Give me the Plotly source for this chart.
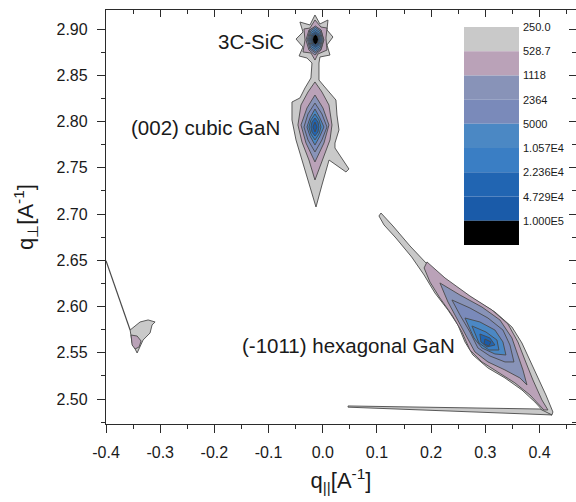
import plotly.graph_objects as go

# ---------------- data ----------------
LEVELS = [250.0, 528.7, 1118, 2364, 5000, 1.057e4, 2.236e4, 4.729e4, 1.0e5]
LEVEL_LABELS = ["250.0", "528.7", "1118", "2364", "5000", "1.057E4", "2.236E4", "4.729E4", "1.000E5"]

X_TICK_VALS = [-0.4, -0.3, -0.2, -0.1, 0.0, 0.1, 0.2, 0.3, 0.4]
X_TICK_TEXT = ["-0.4", "-0.3", "-0.2", "-0.1", "0.0", "0.1", "0.2", "0.3", "0.4"]
Y_TICK_VALS = [2.50, 2.55, 2.60, 2.65, 2.70, 2.75, 2.80, 2.85, 2.90]
Y_TICK_TEXT = ["2.50", "2.55", "2.60", "2.65", "2.70", "2.75", "2.80", "2.85", "2.90"]

PEAK_NAMES = ["3C-SiC", "(002) cubic GaN", "(-1011) hexagonal GaN"]

# --- 3C-SiC + (002) cubic GaN, outer level (250) ---
sic_cub_250_qx = [-0.0144, -0.0052, 0.0096, 0.0078, 0.0188, 0.0078, 0.0133, -0.0052, -0.0070, -0.0070,
                  0.0022, 0.0133, 0.0243, 0.0262, 0.0299, 0.0225, 0.0225, 0.0483, 0.0428, 0.0116,
                  0.0059, -0.0015, -0.0125, -0.0218, -0.0292, -0.0384, -0.0494, -0.0568, -0.0568, -0.0421,
                  -0.0328, -0.0218, -0.0199, -0.0292, -0.0437, -0.0365, -0.0493, -0.0365, -0.0421, -0.0236]
sic_cub_250_qz = [2.9152, 2.9055, 2.9098, 2.8990, 2.8914, 2.8828, 2.8719, 2.8698, 2.8633, 2.8449,
                  2.8384, 2.8309, 2.8233, 2.8071, 2.7909, 2.7768, 2.7714, 2.7487, 2.7455, 2.7584,
                  2.7476, 2.7314, 2.7076, 2.7260, 2.7422, 2.7584, 2.7801, 2.8017, 2.8211, 2.8255,
                  2.8363, 2.8471, 2.8633, 2.8687, 2.8709, 2.8806, 2.8892, 2.8968, 2.9076, 2.9044]

# --- 3C-SiC inner levels ---
sic_528_qx = [-0.0144, -0.0033, 0.0078, 0.0059, 0.0078, -0.0089, -0.0144, -0.0218, -0.0365, -0.0328, -0.0347, -0.0236]
sic_528_qz = [2.9098, 2.9022, 2.9011, 2.8903, 2.8773, 2.8730, 2.8665, 2.8741, 2.8752, 2.8882, 2.9001, 2.9011]
sic_1118_qx = [-0.0144, -0.0033, 0.0022, -0.0033, -0.0144, -0.0255, -0.0310, -0.0255]
sic_1118_qz = [2.9022, 2.8990, 2.8882, 2.8773, 2.8719, 2.8773, 2.8882, 2.8990]
sic_2364_qx = [-0.0135, -0.0031, 0.0013, -0.0031, -0.0135, -0.0239, -0.0283, -0.0239]
sic_2364_qz = [2.9033, 2.8989, 2.8887, 2.8785, 2.8741, 2.8785, 2.8887, 2.8989]
sic_5000_qx = [-0.0135, -0.0045, -0.0006, -0.0045, -0.0135, -0.0225, -0.0264, -0.0225]
sic_5000_qz = [2.9017, 2.8978, 2.8887, 2.8796, 2.8757, 2.8796, 2.8887, 2.8978]
sic_1e4_qx = [-0.0135, -0.0057, -0.0024, -0.0057, -0.0135, -0.0213, -0.0246, -0.0213]
sic_1e4_qz = [2.8995, 2.8963, 2.8887, 2.8811, 2.8779, 2.8811, 2.8887, 2.8963]
sic_2e4_qx = [-0.0135, -0.0071, -0.0043, -0.0071, -0.0135, -0.0199, -0.0227, -0.0199]
sic_2e4_qz = [2.8973, 2.8947, 2.8887, 2.8827, 2.8801, 2.8827, 2.8887, 2.8947]
sic_4e4_qx = [-0.0135, -0.0083, -0.0061, -0.0083, -0.0135, -0.0187, -0.0209, -0.0187]
sic_4e4_qz = [2.8957, 2.8936, 2.8887, 2.8838, 2.8817, 2.8838, 2.8887, 2.8936]
sic_1e5_qx = [-0.0135, -0.0096, -0.0080, -0.0096, -0.0135, -0.0174, -0.0190, -0.0174]
sic_1e5_qz = [2.8941, 2.8925, 2.8887, 2.8849, 2.8833, 2.8849, 2.8887, 2.8925]

# --- (002) cubic GaN inner levels ---
cub_528_qx = [-0.0144, -0.0015, 0.0114, 0.0170, 0.0133, 0.0004, -0.0144, -0.0255, -0.0384, -0.0458, -0.0402, -0.0273]
cub_528_qz = [2.8428, 2.8319, 2.8179, 2.7963, 2.7801, 2.7606, 2.7368, 2.7584, 2.7779, 2.7963, 2.8179, 2.8319]
cub_1118_qx = [-0.0144, 0.0004, 0.0114, 0.0022, -0.0144, -0.0310, -0.0402, -0.0292]
cub_1118_qz = [2.8287, 2.8146, 2.7963, 2.7768, 2.7563, 2.7768, 2.7963, 2.8146]
cub_2364_qx = [-0.0144, -0.0015, 0.0078, -0.0015, -0.0144, -0.0273, -0.0347, -0.0273]
cub_2364_qz = [2.8200, 2.8082, 2.7941, 2.7801, 2.7671, 2.7801, 2.7941, 2.8082]
cub_5000_qx = [-0.0144, -0.0052, 0.0022, -0.0052, -0.0144, -0.0236, -0.0292, -0.0236]
cub_5000_qz = [2.8136, 2.8038, 2.7941, 2.7844, 2.7746, 2.7844, 2.7941, 2.8038]
cub_1e4_qx = [-0.0144, -0.0070, -0.0033, -0.0070, -0.0144, -0.0218, -0.0255, -0.0218]
cub_1e4_qz = [2.8082, 2.8017, 2.7941, 2.7865, 2.7801, 2.7865, 2.7941, 2.8017]
cub_2e4_qx = [-0.0144, -0.0089, -0.0070, -0.0089, -0.0144, -0.0199, -0.0218, -0.0199]
cub_2e4_qz = [2.8038, 2.7995, 2.7941, 2.7887, 2.7844, 2.7887, 2.7941, 2.7995]
cub_4e4_qx = [-0.0144, -0.0107, -0.0144, -0.0181]
cub_4e4_qz = [2.7995, 2.7941, 2.7887, 2.7941]

# --- (-1011) hexagonal GaN ---
hex_250_qx = [0.1074, 0.1295, 0.1609, 0.1941, 0.2347, 0.2753, 0.3177, 0.3491, 0.3675, 0.3823, 0.3971, 0.4118,
              0.4247, 0.4229, 0.4100, 0.3915, 0.3675, 0.3362, 0.3048, 0.2771, 0.2624, 0.2494, 0.2310, 0.2070,
              0.1870, 0.1640, 0.1350, 0.1130, 0.1037]
hex_250_qz = [2.7011, 2.6871, 2.6655, 2.6449, 2.6255, 2.6092, 2.5941, 2.5779, 2.5606, 2.5422, 2.5228, 2.5044,
              2.4860, 2.4828, 2.4849, 2.4968, 2.5098, 2.5228, 2.5336, 2.5476, 2.5617, 2.5801, 2.5963, 2.6146,
              2.6341, 2.6536, 2.6741, 2.6882, 2.6979]
hex_528_qx = [0.1923, 0.2255, 0.2716, 0.3122, 0.3417, 0.3601, 0.3731, 0.3878, 0.4044, 0.4155, 0.4081,
              0.3823, 0.3546, 0.3232, 0.2937, 0.2716, 0.2568, 0.2384, 0.2162, 0.1978, 0.1870]
hex_528_qz = [2.6482, 2.6309, 2.6114, 2.5963, 2.5811, 2.5617, 2.5422, 2.5206, 2.4990, 2.4882, 2.4882,
              2.5044, 2.5174, 2.5292, 2.5401, 2.5530, 2.5725, 2.5909, 2.6092, 2.6265, 2.6417]
hex_1118_qx = [0.2162, 0.2531, 0.2937, 0.3269, 0.3491, 0.3601, 0.3694, 0.3768, 0.3638, 0.3362, 0.3048,
               0.2808, 0.2642, 0.2494, 0.2310]
hex_1118_qz = [2.6255, 2.6125, 2.5995, 2.5855, 2.5660, 2.5476, 2.5314, 2.5152, 2.5228, 2.5314, 2.5401,
               2.5509, 2.5692, 2.5855, 2.6049]
hex_2364_qx = [0.2384, 0.2716, 0.3048, 0.3325, 0.3454, 0.3528, 0.3362, 0.3085, 0.2863, 0.2716, 0.2531]
hex_2364_qz = [2.6071, 2.5984, 2.5876, 2.5746, 2.5584, 2.5401, 2.5401, 2.5465, 2.5552, 2.5725, 2.5909]
hex_5000_qx = [0.2624, 0.2900, 0.3177, 0.3325, 0.3380, 0.3177, 0.2937, 0.2790]
hex_5000_qz = [2.5876, 2.5833, 2.5746, 2.5617, 2.5476, 2.5487, 2.5552, 2.5660]
hex_1e4_qx = [0.2753, 0.3011, 0.3214, 0.3251, 0.3066, 0.2882]
hex_1e4_qz = [2.5790, 2.5725, 2.5638, 2.5530, 2.5530, 2.5606]
hex_2e4_qx = [0.2900, 0.3085, 0.3177, 0.3030, 0.2919]
hex_2e4_qz = [2.5703, 2.5660, 2.5584, 2.5563, 2.5617]
hex_4e4_qx = [0.2993, 0.3103, 0.3066, 0.2974]
hex_4e4_qz = [2.5649, 2.5617, 2.5574, 2.5595]
hex_tail_qx = [0.0467, 0.4009, 0.4230, 0.0467]
hex_tail_qz = [2.4925, 2.4892, 2.4828, 2.4912]

# --- weak feature near q_par = -0.34 ---
weak_250_qx = [-0.3555, -0.3371, -0.3223, -0.3094, -0.3150, -0.3187, -0.3316, -0.3426, -0.3518]
weak_250_qz = [2.5746, 2.5833, 2.5855, 2.5833, 2.5801, 2.5714, 2.5638, 2.5498, 2.5606]
weak_528_qx = [-0.3537, -0.3426, -0.3352, -0.3389, -0.3463, -0.3518]
weak_528_qz = [2.5692, 2.5681, 2.5627, 2.5563, 2.5541, 2.5584]
weak_streak_qx = [-0.4000, -0.3555]
weak_streak_qz = [2.6495, 2.5746]

# (level index, q_par, q_perp) -- drawn from outer to inner
CONTOURS = [
    (0, sic_cub_250_qx, sic_cub_250_qz), (0, hex_250_qx, hex_250_qz), (0, hex_tail_qx, hex_tail_qz),
    (0, weak_250_qx, weak_250_qz),
    (1, sic_528_qx, sic_528_qz), (1, cub_528_qx, cub_528_qz), (1, hex_528_qx, hex_528_qz), (1, weak_528_qx, weak_528_qz),
    (2, sic_1118_qx, sic_1118_qz), (2, cub_1118_qx, cub_1118_qz), (2, hex_1118_qx, hex_1118_qz),
    (3, sic_2364_qx, sic_2364_qz), (3, cub_2364_qx, cub_2364_qz), (3, hex_2364_qx, hex_2364_qz),
    (4, sic_5000_qx, sic_5000_qz), (4, cub_5000_qx, cub_5000_qz), (4, hex_5000_qx, hex_5000_qz),
    (5, sic_1e4_qx, sic_1e4_qz), (5, cub_1e4_qx, cub_1e4_qz), (5, hex_1e4_qx, hex_1e4_qz),
    (6, sic_2e4_qx, sic_2e4_qz), (6, cub_2e4_qx, cub_2e4_qz), (6, hex_2e4_qx, hex_2e4_qz),
    (7, sic_4e4_qx, sic_4e4_qz), (7, cub_4e4_qx, cub_4e4_qz), (7, hex_4e4_qx, hex_4e4_qz),
    (8, sic_1e5_qx, sic_1e5_qz),
]

# ---------------- style ----------------
FILL_COLORS = ["#c9c9c9", "#baa2b8", "#8893b8", "#7a8aba", "#4b88c4", "#3a7ec4", "#2165b2", "#1a5ba9", "#000000"]
LINE_COLOR = "#4a4a4a"
FONT = "Liberation Sans, Arial, sans-serif"
TXT = "#1a1a1a"

fig = go.Figure()

for lvl, qx, qz in CONTOURS:
    fig.add_trace(go.Scatter(
        x=qx + [qx[0]], y=qz + [qz[0]], mode="lines", fill="toself",
        fillcolor=FILL_COLORS[lvl], line=dict(color=LINE_COLOR, width=0.9),
        hoverinfo="skip", showlegend=False))

fig.add_trace(go.Scatter(x=weak_streak_qx, y=weak_streak_qz, mode="lines",
                         line=dict(color=LINE_COLOR, width=1.2), hoverinfo="skip", showlegend=False))

# dummy trace for mirrored (inside-tick) axes
fig.add_trace(go.Scatter(x=[X_TICK_VALS[0]], y=[Y_TICK_VALS[0]], xaxis="x2", yaxis="y2",
                         mode="markers", marker=dict(opacity=0), hoverinfo="skip", showlegend=False))

# peak labels
fig.add_annotation(x=-0.068, y=2.887, text=PEAK_NAMES[0], xref="x", yref="y", showarrow=False,
                   xanchor="right", yanchor="middle", font=dict(family=FONT, size=20.5, color=TXT))
fig.add_annotation(x=-0.075, y=2.7935, text=PEAK_NAMES[1], xref="x", yref="y", showarrow=False,
                   xanchor="right", yanchor="middle", font=dict(family=FONT, size=20.5, color=TXT))
fig.add_annotation(x=0.2478, y=2.558, text=PEAK_NAMES[2], xref="x", yref="y", showarrow=False,
                   xanchor="right", yanchor="middle", font=dict(family=FONT, size=20.5, color=TXT))

# level legend (colour key)
key_top, key_step = 0.959, 0.0585
key_x0, key_x1 = 0.7617, 0.8787
for i, lab in enumerate(LEVEL_LABELS):
    y1 = key_top - i * key_step
    y0 = y1 - key_step
    fig.add_shape(type="rect", xref="paper", yref="paper", x0=key_x0, x1=key_x1, y0=y0, y1=y1,
                  fillcolor=FILL_COLORS[i], line=dict(width=0), layer="above")
    fig.add_annotation(x=key_x1 + 0.004, y=y1, xref="paper", yref="paper", text=lab, showarrow=False,
                       xanchor="left", yanchor="middle", font=dict(family=FONT, size=11, color=TXT))

axis_common = dict(showgrid=False, zeroline=False, showline=True, linecolor="#2b2b2b", linewidth=1.3)

fig.update_layout(
    width=576, height=502,
    margin=dict(l=106, r=0, t=10, b=78),
    paper_bgcolor="white", plot_bgcolor="white",
    font=dict(family=FONT, color=TXT),
    xaxis=dict(range=[-0.4, 0.4673], tickmode="array", tickvals=X_TICK_VALS, ticktext=X_TICK_TEXT,
               ticks="outside", ticklen=8, tickwidth=1.3, tickcolor="#2b2b2b", mirror=True,
               ticklabelstandoff=6,
               minor=dict(dtick=0.05, tick0=0, ticks="outside", ticklen=4, tickwidth=1.2, tickcolor="#2b2b2b"),
               tickfont=dict(size=16, family=FONT, color=TXT),
               title=dict(text="q<sub>||</sub>[A<sup>-1</sup>]", font=dict(size=22, family=FONT, color=TXT), standoff=12),
               **axis_common),
    yaxis=dict(range=[2.473, 2.9206], tickmode="array", tickvals=Y_TICK_VALS, ticktext=Y_TICK_TEXT,
               ticks="outside", ticklen=8, tickwidth=1.3, tickcolor="#2b2b2b", mirror=True,
               ticklabelstandoff=6,
               minor=dict(dtick=0.025, tick0=2.5, ticks="outside", ticklen=4, tickwidth=1.2, tickcolor="#2b2b2b"),
               tickfont=dict(size=16, family=FONT, color=TXT),
               title=dict(text="q<sub>⊥</sub>[A<sup>-1</sup>]", font=dict(size=22, family=FONT, color=TXT), standoff=16),
               **axis_common),
    xaxis2=dict(overlaying="x", side="top", matches="x", anchor="y2", showticklabels=False,
                tickmode="array", tickvals=X_TICK_VALS, ticks="inside", ticklen=7, tickwidth=1.3,
                tickcolor="#2b2b2b", showgrid=False, zeroline=False, showline=False,
                minor=dict(dtick=0.05, tick0=0, ticks="inside", ticklen=4, tickwidth=1.2, tickcolor="#2b2b2b")),
    yaxis2=dict(overlaying="y", side="right", matches="y", anchor="x2", showticklabels=False,
                tickmode="array", tickvals=Y_TICK_VALS, ticks="inside", ticklen=7, tickwidth=1.3,
                tickcolor="#2b2b2b", showgrid=False, zeroline=False, showline=False,
                minor=dict(dtick=0.025, tick0=2.5, ticks="inside", ticklen=4, tickwidth=1.2, tickcolor="#2b2b2b")),
)

fig.write_html("out.html")
